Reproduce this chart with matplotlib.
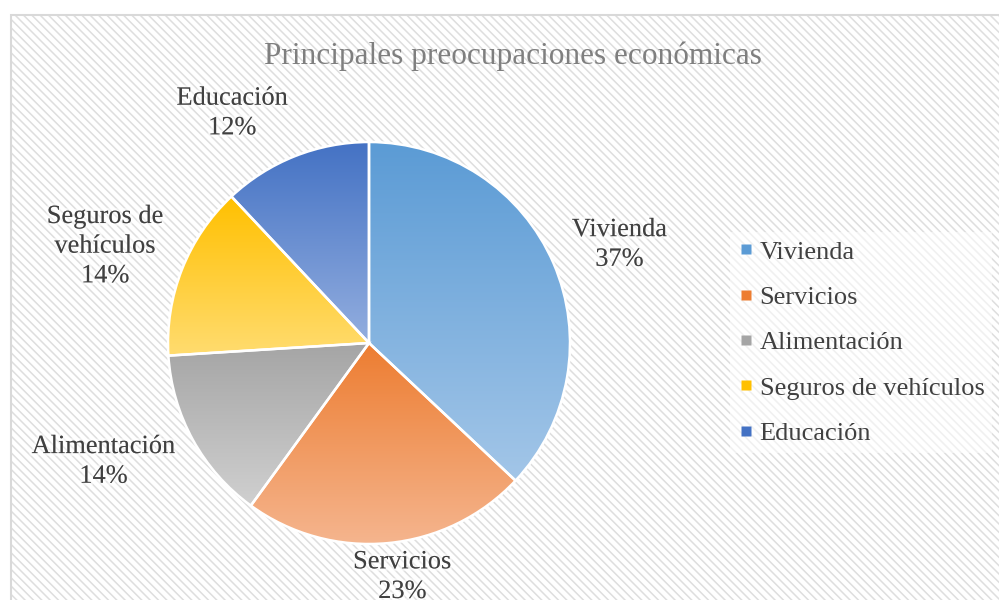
import numpy as np
import matplotlib.pyplot as plt
import matplotlib.patheffects as pe
from matplotlib.colors import LinearSegmentedColormap
from matplotlib.patches import Rectangle
from matplotlib.lines import Line2D

categories = ["Vivienda", "Servicios", "Alimentación", "Seguros de vehículos", "Educación"]
label_text = ["Vivienda", "Servicios", "Alimentación", "Seguros de\nvehículos", "Educación"]
values = [37, 23, 14, 14, 12]
top_colors = ["#5B9BD5", "#ED7D31", "#A5A5A5", "#FFC000", "#4472C4"]
bottom_colors = ["#A3C6E8", "#F5B690", "#D0D0D0", "#FFDC70", "#93AEDF"]

plt.rcParams['font.family'] = ['Liberation Serif', 'DejaVu Serif']
plt.rcParams['hatch.linewidth'] = 1.1
plt.rcParams['hatch.color'] = '#DEDEDE'

fig = plt.figure(figsize=(9.99, 6), dpi=100)
ax = fig.add_axes([0, 0, 1, 1])

# chart area with diagonal stripes
ax.add_patch(Rectangle((10.5, -20), 1000, 605, facecolor='white', edgecolor='#DEDEDE',
                       hatch='\\\\\\\\', lw=0, zorder=0))
ax.add_patch(Rectangle((10.5, -20), 1000, 605, facecolor='none', edgecolor='#D9D9D9',
                       lw=1.5, zorder=0.5))

cx, cy, r = 369, 257, 201
wedges, _ = ax.pie(values, startangle=90, counterclock=False, center=(cx, cy), radius=r,
                   colors=top_colors, wedgeprops=dict(edgecolor='white', linewidth=1.8),
                   frame=True)
ax.set_xlim(0, 999)
ax.set_ylim(0, 600)
ax.set_aspect('auto')
ax.axis('off')

grad = np.linspace(0, 1, 256).reshape(-1, 1)
for w, c1, c2 in zip(wedges, top_colors, bottom_colors):
    verts = w.get_path().vertices
    x0, x1 = verts[:, 0].min(), verts[:, 0].max()
    y0, y1 = verts[:, 1].min(), verts[:, 1].max()
    cmap = LinearSegmentedColormap.from_list('g', [c1, c2])
    im = ax.imshow(grad, cmap=cmap, extent=(x0, x1, y0, y1), origin='upper',
                   aspect='auto', zorder=1.5)
    im.set_clip_path(w)
    w.set_zorder(2)
    w.set_facecolor('none')

halo = [pe.withStroke(linewidth=4, foreground=(1, 1, 1, 0.5))]

# data labels outside the slices
total = sum(values)
labels = []
for w, name, v in zip(wedges, label_text, values):
    t = ax.text(0, 0, f"{name}\n{round(100 * v / total)}%", ha='center', va='center',
                multialignment='center', fontsize=19, color='#404040', linespacing=1.45,
                zorder=3, path_effects=halo)
    labels.append(t)

fig.canvas.draw()
renderer = fig.canvas.get_renderer()
gap = 20
for w, t in zip(wedges, labels):
    bb = t.get_window_extent(renderer)
    bw, bh = bb.width, bb.height
    ang = np.deg2rad((w.theta1 + w.theta2) / 2)
    c, s = np.cos(ang), np.sin(ang)
    kx = np.sign(c) * min(1.0, abs(c) * 2.7)
    lx = cx + (r + gap) * c + kx * bw / 2
    ly = cy + (r + gap) * s + s * bh / 2
    ly = max(ly, bh / 2 - 3)
    t.set_position((lx, ly))

ax.text(513, 544, "Principales preocupaciones económicas", ha='center', va='center',
        fontsize=22.5, color='#7F7F7F')

handles = [Line2D([], [], marker='s', ls='none', markersize=6.5, markerfacecolor=c,
                  markeredgecolor='none') for c in top_colors]
leg = ax.legend(handles, categories, loc='upper left', bbox_to_anchor=(0.718, 0.635),
                frameon=True, fontsize=19, labelspacing=0.83, handlelength=0.6,
                handletextpad=0.2, labelcolor='#404040', borderpad=0.3,
                framealpha=0.55, facecolor='white', edgecolor='none', fancybox=False)

fig.savefig('out.png', dpi=100)
